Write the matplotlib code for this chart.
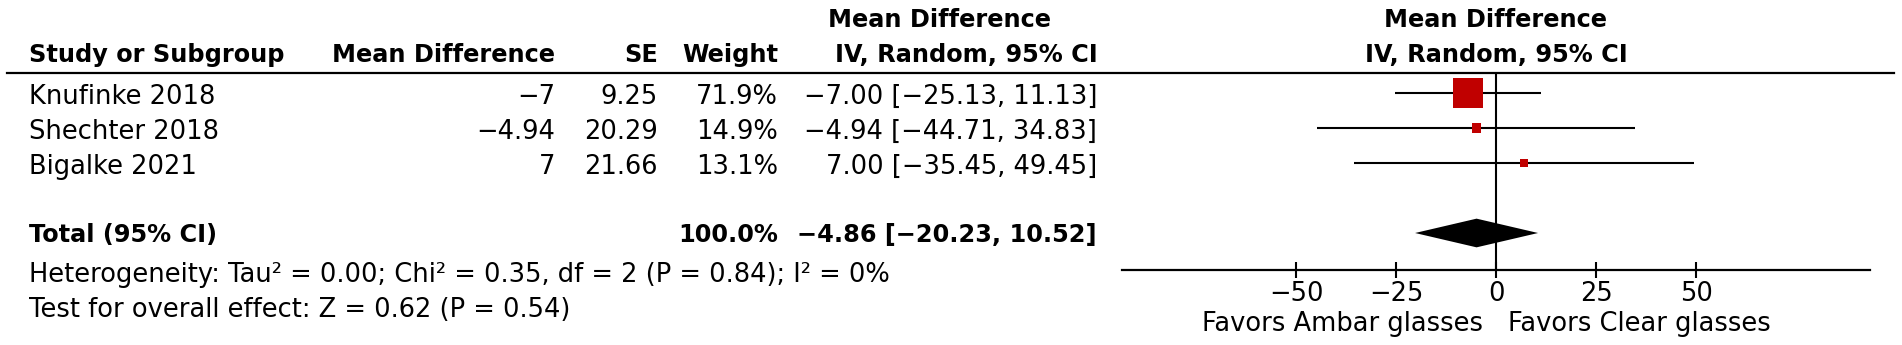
# forest plot - ambar vs clear glasses
import numpy as np
import matplotlib.pyplot as plt

plt.rcParams['font.family'] = ['DejaVu Sans']

# data
studies = ["Knufinke 2018", "Shechter 2018", "Bigalke 2021"]
md = [-7, -4.94, 7]
se = [9.25, 20.29, 21.66]
weight = [71.9, 14.9, 13.1]
ci_lo = [-25.13, -44.71, -35.45]
ci_hi = [11.13, 34.83, 49.45]
total_weight = 100.0
total_md = -4.86
total_lo = -20.23
total_hi = 10.52
ticks = [-50, -25, 0, 25, 50]
heterogeneity = "Heterogeneity: Tau\u00b2 = 0.00; Chi\u00b2 = 0.35, df = 2 (P = 0.84); I\u00b2 = 0%"
overall = "Test for overall effect: Z = 0.62 (P = 0.54)"
left_label = "Favors Ambar glasses"
right_label = "Favors Clear glasses"

def m(s):
    # minus sign like revman
    return s.replace("-", "\u2212")

def ci_text(est, lo, hi):
    return m(f"{est:.2f} [{lo:.2f}, {hi:.2f}]")

fs = 18.5
fb = 17.3  # bold is wider in dejavu
red = "#c00000"

fig = plt.figure(figsize=(19.02, 3.45), dpi=100)

# table part, pixel coords
ax0 = fig.add_axes([0, 0, 1, 1])
ax0.set_xlim(0, 1902)
ax0.set_ylim(345, 0)
ax0.axis('off')

# header
ax0.text(29, 55, "Study or Subgroup", fontsize=fb, weight='bold', va='center', ha='left')
ax0.text(555, 55, "Mean Difference", fontsize=fb, weight='bold', va='center', ha='right')
ax0.text(658, 55, "SE", fontsize=fb, weight='bold', va='center', ha='right')
ax0.text(778, 55, "Weight", fontsize=fb, weight='bold', va='center', ha='right')
ax0.text(939, 20, "Mean Difference", fontsize=fb, weight='bold', va='center', ha='center')
ax0.text(1098, 55, "IV, Random, 95% CI", fontsize=fb, weight='bold', va='center', ha='right')
ax0.text(1496, 20, "Mean Difference", fontsize=fb, weight='bold', va='center', ha='center')
ax0.text(1496, 55, "IV, Random, 95% CI", fontsize=fb, weight='bold', va='center', ha='center')
ax0.plot([7, 1894], [73, 73], color='black', lw=1.6)

# study rows
row_y = [97, 132, 167]
for i in range(len(studies)):
    y = row_y[i]
    ax0.text(29, y, studies[i], fontsize=fs, va='center', ha='left')
    ax0.text(555, y, m(f"{md[i]:g}"), fontsize=fs, va='center', ha='right')
    ax0.text(658, y, f"{se[i]:.2f}", fontsize=fs, va='center', ha='right')
    ax0.text(778, y, f"{weight[i]:.1f}%", fontsize=fs, va='center', ha='right')
    ax0.text(1097, y, ci_text(md[i], ci_lo[i], ci_hi[i]), fontsize=fs, va='center', ha='right')

# total
ax0.text(29, 235, "Total (95% CI)", fontsize=fb, weight='bold', va='center', ha='left')
ax0.text(778, 235, f"{total_weight:.1f}%", fontsize=fb, weight='bold', va='center', ha='right')
ax0.text(1097, 235, ci_text(total_md, total_lo, total_hi), fontsize=fb, weight='bold', va='center', ha='right')
ax0.text(29, 275, heterogeneity, fontsize=fs, va='center', ha='left')
ax0.text(29, 310, overall, fontsize=fs, va='center', ha='left')

# forest part
ax = fig.add_axes([1122 / 1902, 75 / 345, 748 / 1902, 197 / 345])
ax.set_xlim(-93.5, 93.5)
ax.set_ylim(5.057, -0.571)
for s in ['top', 'left', 'right']:
    ax.spines[s].set_visible(False)
ax.spines['bottom'].set_linewidth(1.6)
ax.set_yticks([])
ax.set_xticks(ticks)
ax.set_xticklabels([m(str(t)) for t in ticks])
ax.tick_params(axis='x', direction='inout', length=11, width=1.5, labelsize=fs, pad=2.5)
ax.patch.set_alpha(0)

rows = np.arange(len(studies))
ax.axvline(0, color='black', lw=1.5)
ax.hlines(rows, ci_lo, ci_hi, color='black', lw=1.5)
side = 21.6 * (np.array(weight) / max(weight)) ** 0.75  # box side in points
ax.scatter(md, rows, marker='s', s=side ** 2, color=red, zorder=3, linewidths=0)

total_row = 4
h = 0.41
ax.fill([total_lo, total_md, total_hi, total_md],
        [total_row, total_row - h, total_row, total_row + h], color='black', lw=0, zorder=3)

ax.annotate(left_label, xy=(0, 0), xycoords=('data', 'axes fraction'), xytext=(-9, -39),
            textcoords='offset points', ha='right', va='center', fontsize=fs, annotation_clip=False)
ax.annotate(right_label, xy=(0, 0), xycoords=('data', 'axes fraction'), xytext=(9, -39),
            textcoords='offset points', ha='left', va='center', fontsize=fs, annotation_clip=False)

plt.savefig("out.png", dpi=100)
